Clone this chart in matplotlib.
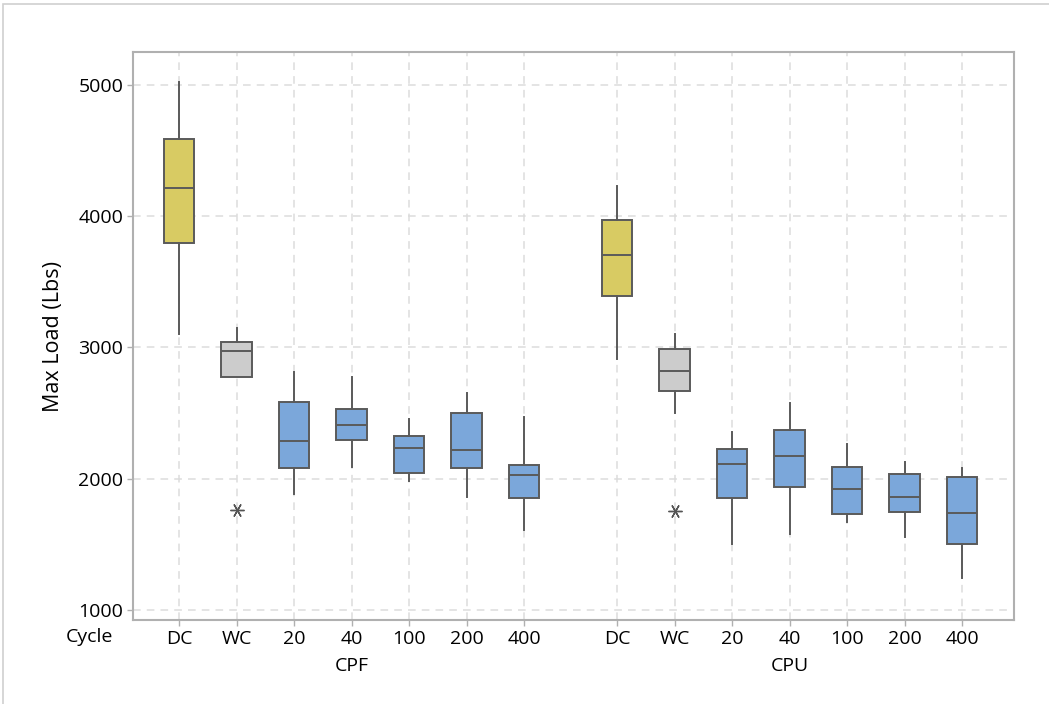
import matplotlib
matplotlib.use("Agg")
import matplotlib.pyplot as plt
from matplotlib.patches import Rectangle

plt.rcParams['font.family'] = ['Open Sans', 'DejaVu Sans']

groups = ["CPF", "CPU"]
cycles = ["DC", "WC", "20", "40", "100", "200", "400"]

# five-number summaries per group (order of cycles)
cpf_whislo = [3102, 2773, 1886, 2089, 1980, 1861, 1607]
cpf_q1     = [3797, 2773, 2081, 2297, 2046, 2081, 1851]
cpf_med    = [4212, 2975, 2287, 2409, 2231, 2216, 2027]
cpf_q3     = [4587, 3043, 2584, 2531, 2325, 2500, 2101]
cpf_whishi = [5021, 3145, 2810, 2772, 2455, 2653, 2474]
cpf_fliers = [[], [1762], [], [], [], [], []]

cpu_whislo = [2909, 2503, 1500, 1577, 1668, 1559, 1246]
cpu_q1     = [3389, 2670, 1851, 1934, 1729, 1749, 1503]
cpu_med    = [3704, 2818, 2112, 2176, 1924, 1861, 1737]
cpu_q3     = [3973, 2988, 2224, 2371, 2092, 2034, 2015]
cpu_whishi = [4232, 3100, 2353, 2579, 2262, 2130, 2084]
cpu_fliers = [[], [1756], [], [], [], [], []]

colors = ["#D8CB63", "#CCCCCC", "#7BA7DA", "#7BA7DA", "#7BA7DA", "#7BA7DA", "#7BA7DA"]

fig = plt.figure(figsize=(10.49, 7.04), dpi=100)
W, H = 1049, 704
ax = fig.add_axes([133 / W, 1 - 620 / H, (1014 - 133) / W, (620 - 52) / H])

# outer frame
fig.patches.append(Rectangle((3 / W, -0.1), 1.2, 1 - 4 / H + 0.1, transform=fig.transFigure,
                             fill=False, edgecolor="#d0d0d0", linewidth=1.2))

gap = 7.62
positions = list(range(7)) + [gap + i for i in range(7)]

stats = []
cols = []
for lo, q1, med, q3, hi, fl in [
    (cpf_whislo, cpf_q1, cpf_med, cpf_q3, cpf_whishi, cpf_fliers),
    (cpu_whislo, cpu_q1, cpu_med, cpu_q3, cpu_whishi, cpu_fliers),
]:
    for i in range(7):
        stats.append(dict(whislo=lo[i], q1=q1[i], med=med[i], q3=q3[i], whishi=hi[i],
                          fliers=fl[i], label=cycles[i]))
        cols.append(colors[i])

ax.set_axisbelow(True)
for p in positions:
    ax.axvline(p, color="#dcdcdc", linestyle=(0, (5, 4)), linewidth=1.1, zorder=0)
for yv in [1000, 2000, 3000, 4000, 5000]:
    ax.axhline(yv, color="#dcdcdc", linestyle=(0, (5, 4)), linewidth=1.1, zorder=0)

bp = ax.bxp(stats, positions=positions, widths=0.53, patch_artist=True, showcaps=False,
            boxprops=dict(edgecolor="#5a5a5a", linewidth=1.4),
            medianprops=dict(color="#5a5a5a", linewidth=1.4),
            whiskerprops=dict(color="#5a5a5a", linewidth=1.4),
            flierprops=dict(marker=(6, 2, 30), markersize=10, markeredgecolor="#555555",
                            markeredgewidth=1.0, linestyle="none"),
            zorder=3)
for patch, c in zip(bp["boxes"], cols):
    patch.set_facecolor(c)

ax.set_xlim(-0.8, positions[-1] + 0.9)
ax.set_ylim(924, 5251)
ax.set_yticks([1000, 2000, 3000, 4000, 5000])
ax.set_xticks(positions)
ax.set_xticklabels(cycles * 2)

for sp in ax.spines.values():
    sp.set_color("#b0b0b0")
    sp.set_linewidth(1.5)

ax.tick_params(axis="both", colors="#b0b0b0", labelcolor="black", labelsize=14,
               length=4, width=1)
ax.tick_params(axis="x", pad=3)
ax.tick_params(axis="y", pad=3)

ax.set_ylabel("Max Load (Lbs)", fontsize=15.5, labelpad=10)

# extra labels
xt = ax.get_xaxis_transform()
ax.text(-0.8 - 44 / 57.5, -0.014, "Cycle", transform=xt,
        ha="center", va="top", fontsize=14)
ax.text(3, -0.065, "CPF", transform=xt, ha="center", va="top", fontsize=14)
ax.text(gap + 3, -0.065, "CPU", transform=xt, ha="center", va="top", fontsize=14)

fig.savefig("out.png", dpi=100)
